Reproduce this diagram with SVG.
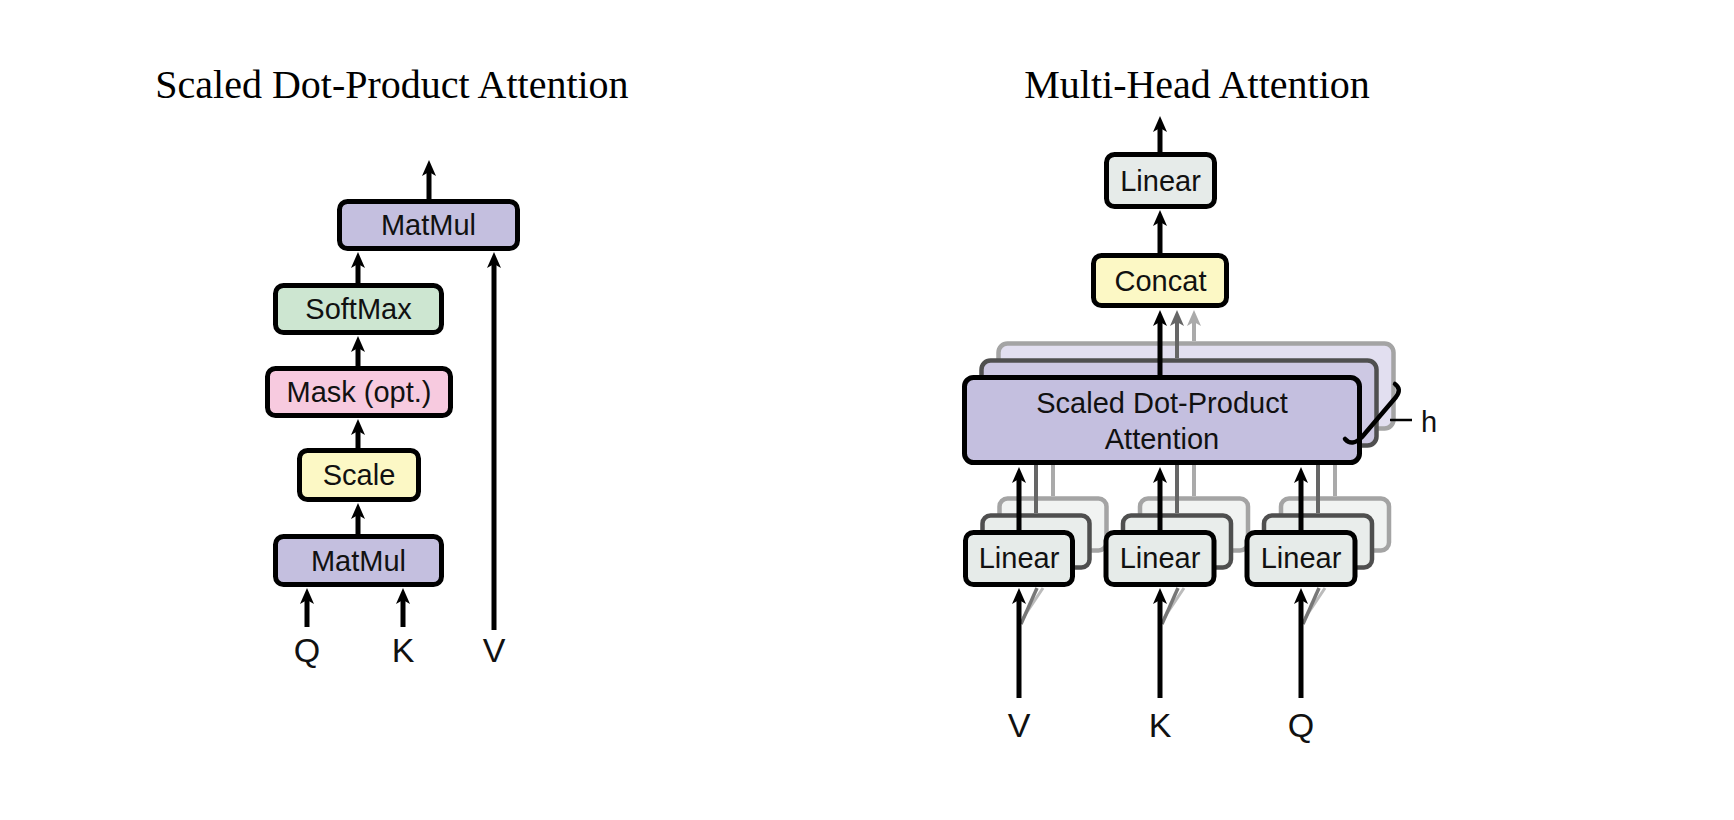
<svg xmlns="http://www.w3.org/2000/svg" width="1734" height="820" viewBox="0 0 1734 820">
<defs>
<style>
.title{font-family:"Liberation Serif","Times New Roman",serif;font-size:40px;fill:#000;text-anchor:middle}
.lbl{font-family:"Liberation Sans",Arial,sans-serif;font-size:29px;fill:#111;text-anchor:middle}
.io{font-family:"Liberation Sans",Arial,sans-serif;font-size:34px;fill:#111;text-anchor:middle}
.box{stroke:#000;stroke-width:5}
.purple{fill:#c4bfdf}
.green{fill:#cde6d1}
.pink{fill:#f7cadf}
.yellow{fill:#fcf8c5}
.grey{fill:#e6ebe9}
.back2{stroke:#505050;stroke-width:4.5}
.back3{stroke:#a4a4a4;stroke-width:4.5}
.ar{stroke:#000;stroke-width:5;fill:none}
.ar2{stroke:#666;stroke-width:4;fill:none}
.ar3{stroke:#aaa;stroke-width:4;fill:none}
</style>
<marker id="hb" viewBox="0 0 16 14" refX="6" refY="7" markerWidth="16" markerHeight="14" markerUnits="userSpaceOnUse" orient="auto">
<path d="M0,0 L16,7 L0,14 L4,7 Z" fill="#000"/>
</marker>
<marker id="hd" viewBox="0 0 16 14" refX="6" refY="7" markerWidth="16" markerHeight="14" markerUnits="userSpaceOnUse" orient="auto">
<path d="M0,0 L16,7 L0,14 L4,7 Z" fill="#666"/>
</marker>
<marker id="hl" viewBox="0 0 16 14" refX="6" refY="7" markerWidth="16" markerHeight="14" markerUnits="userSpaceOnUse" orient="auto">
<path d="M0,0 L16,7 L0,14 L4,7 Z" fill="#aaa"/>
</marker>
<filter id="soft" x="-10%" y="-10%" width="120%" height="120%">
<feGaussianBlur stdDeviation="0.6"/>
</filter>
</defs>
<rect width="1734" height="820" fill="#fff"/>

<text class="title" x="392" y="98">Scaled Dot-Product Attention</text>
<text class="title" x="1197" y="98">Multi-Head Attention</text>

<!-- Left: Scaled Dot-Product Attention -->
<g id="matmul-top">
<rect class="box purple" x="339.5" y="201.5" width="178" height="47" rx="8"/>
<text class="lbl" x="428.5" y="235">MatMul</text>
</g>
<g id="softmax">
<rect class="box green" x="275.5" y="285.5" width="166" height="47" rx="8"/>
<text class="lbl" x="358.5" y="319">SoftMax</text>
</g>
<g id="mask">
<rect class="box pink" x="267.5" y="368.5" width="183" height="47" rx="8"/>
<text class="lbl" x="359" y="402">Mask (opt.)</text>
</g>
<g id="scale">
<rect class="box yellow" x="299.5" y="450.5" width="119" height="49" rx="8"/>
<text class="lbl" x="359" y="485">Scale</text>
</g>
<g id="matmul-bottom">
<rect class="box purple" x="275.5" y="536.5" width="166" height="48" rx="8"/>
<text class="lbl" x="358.5" y="571">MatMul</text>
</g>
<g id="inputs-left">
<text class="io" x="307" y="662">Q</text>
<text class="io" x="403" y="662">K</text>
<text class="io" x="494" y="662">V</text>
</g>

<!-- Right: Multi-Head Attention -->
<g id="linear-out">
<rect class="box grey" x="1106.5" y="154.5" width="108" height="52" rx="8"/>
<text class="lbl" x="1160.5" y="191">Linear</text>
</g>
<g id="concat">
<rect class="box yellow" x="1093.5" y="255.5" width="133" height="50" rx="8"/>
<text class="lbl" x="1160.5" y="291">Concat</text>
</g>
<g id="sdpa-heads">
<rect class="back3" x="998.5" y="343.5" width="395" height="85" rx="9" fill="#e2dff0" filter="url(#soft)"/>
<line class="ar3" x1="1194" y1="341" x2="1194" y2="320" marker-end="url(#hl)"/>
<rect class="back2" x="981.5" y="360.5" width="395" height="85" rx="9" fill="#cdc8e3" filter="url(#soft)"/>
<line class="ar2" x1="1177" y1="358" x2="1177" y2="320" marker-end="url(#hd)"/>
<rect class="box purple" x="964.5" y="377.5" width="395" height="85" rx="9"/>
<text class="lbl" x="1162" y="413">Scaled Dot-Product</text>
<text class="lbl" x="1162" y="449">Attention</text>
</g>
<g id="linear-v">
<rect class="back3" x="999.5" y="498.5" width="107" height="52" rx="8" fill="#f1f3f2" filter="url(#soft)"/>
<rect class="back2" x="982.5" y="515.5" width="107" height="52" rx="8" fill="#e9edeb" filter="url(#soft)"/>
<rect class="box grey" x="965.5" y="532.5" width="107" height="52" rx="8"/>
<text class="lbl" x="1019" y="568">Linear</text>
</g>
<g id="linear-k">
<rect class="back3" x="1140" y="498.5" width="108" height="52" rx="8" fill="#f1f3f2" filter="url(#soft)"/>
<rect class="back2" x="1123" y="515.5" width="108" height="52" rx="8" fill="#e9edeb" filter="url(#soft)"/>
<rect class="box grey" x="1106" y="532.5" width="108" height="52" rx="8"/>
<text class="lbl" x="1160" y="568">Linear</text>
</g>
<g id="linear-q">
<rect class="back3" x="1281" y="498.5" width="108" height="52" rx="8" fill="#f1f3f2" filter="url(#soft)"/>
<rect class="back2" x="1264" y="515.5" width="108" height="52" rx="8" fill="#e9edeb" filter="url(#soft)"/>
<rect class="box grey" x="1247" y="532.5" width="108" height="52" rx="8"/>
<text class="lbl" x="1301" y="568">Linear</text>
</g>
<g id="inputs-right">
<text class="io" x="1019" y="737">V</text>
<text class="io" x="1160" y="737">K</text>
<text class="io" x="1301" y="737">Q</text>
</g>
<g id="heads-label">
<path d="M1345,439 Q1352,447 1362,437 L1396,397 Q1402,389 1395,384" fill="none" stroke="#000" stroke-width="4.5" stroke-linecap="round"/>
<line x1="1390" y1="420" x2="1412" y2="420" stroke="#000" stroke-width="2.5"/>
<text class="lbl" x="1429" y="432">h</text>
</g>

<g id="connectors">
<!-- left -->
<line class="ar" x1="429" y1="199" x2="429" y2="170" marker-end="url(#hb)"/>
<line class="ar" x1="358" y1="283" x2="358" y2="262" marker-end="url(#hb)"/>
<line class="ar" x1="358" y1="366" x2="358" y2="346" marker-end="url(#hb)"/>
<line class="ar" x1="358" y1="448" x2="358" y2="429" marker-end="url(#hb)"/>
<line class="ar" x1="358" y1="534" x2="358" y2="513" marker-end="url(#hb)"/>
<line class="ar" x1="307" y1="627" x2="307" y2="598" marker-end="url(#hb)"/>
<line class="ar" x1="403" y1="627" x2="403" y2="598" marker-end="url(#hb)"/>
<line class="ar" x1="494" y1="630" x2="494" y2="262" marker-end="url(#hb)"/>
<!-- right -->
<line class="ar" x1="1160" y1="152" x2="1160" y2="126" marker-end="url(#hb)"/>
<line class="ar" x1="1160" y1="253" x2="1160" y2="220" marker-end="url(#hb)"/>
<line class="ar" x1="1160" y1="375" x2="1160" y2="320" marker-end="url(#hb)"/>
<!-- linear to sdpa, grey heads -->
<line class="ar2" x1="1036" y1="513" x2="1036" y2="465"/>
<line class="ar3" x1="1053" y1="496" x2="1053" y2="465"/>
<line class="ar2" x1="1177" y1="513" x2="1177" y2="465"/>
<line class="ar3" x1="1194" y1="496" x2="1194" y2="465"/>
<line class="ar2" x1="1318" y1="513" x2="1318" y2="465"/>
<line class="ar3" x1="1335" y1="496" x2="1335" y2="465"/>
<line class="ar" x1="1019" y1="530" x2="1019" y2="477" marker-end="url(#hb)"/>
<line class="ar" x1="1160" y1="530" x2="1160" y2="477" marker-end="url(#hb)"/>
<line class="ar" x1="1301" y1="530" x2="1301" y2="477" marker-end="url(#hb)"/>
<!-- input shadows -->
<g filter="url(#soft)">
<line x1="1023" y1="618" x2="1043" y2="588" stroke="#bbb" stroke-width="3"/>
<line x1="1021" y1="624" x2="1037" y2="588" stroke="#777" stroke-width="3.5"/>
<line x1="1164" y1="618" x2="1184" y2="588" stroke="#bbb" stroke-width="3"/>
<line x1="1162" y1="624" x2="1178" y2="588" stroke="#777" stroke-width="3.5"/>
<line x1="1305" y1="618" x2="1325" y2="588" stroke="#bbb" stroke-width="3"/>
<line x1="1303" y1="624" x2="1319" y2="588" stroke="#777" stroke-width="3.5"/>
</g>
<line class="ar" x1="1019" y1="698" x2="1019" y2="598" marker-end="url(#hb)"/>
<line class="ar" x1="1160" y1="698" x2="1160" y2="598" marker-end="url(#hb)"/>
<line class="ar" x1="1301" y1="698" x2="1301" y2="598" marker-end="url(#hb)"/>
</g>
</svg>
